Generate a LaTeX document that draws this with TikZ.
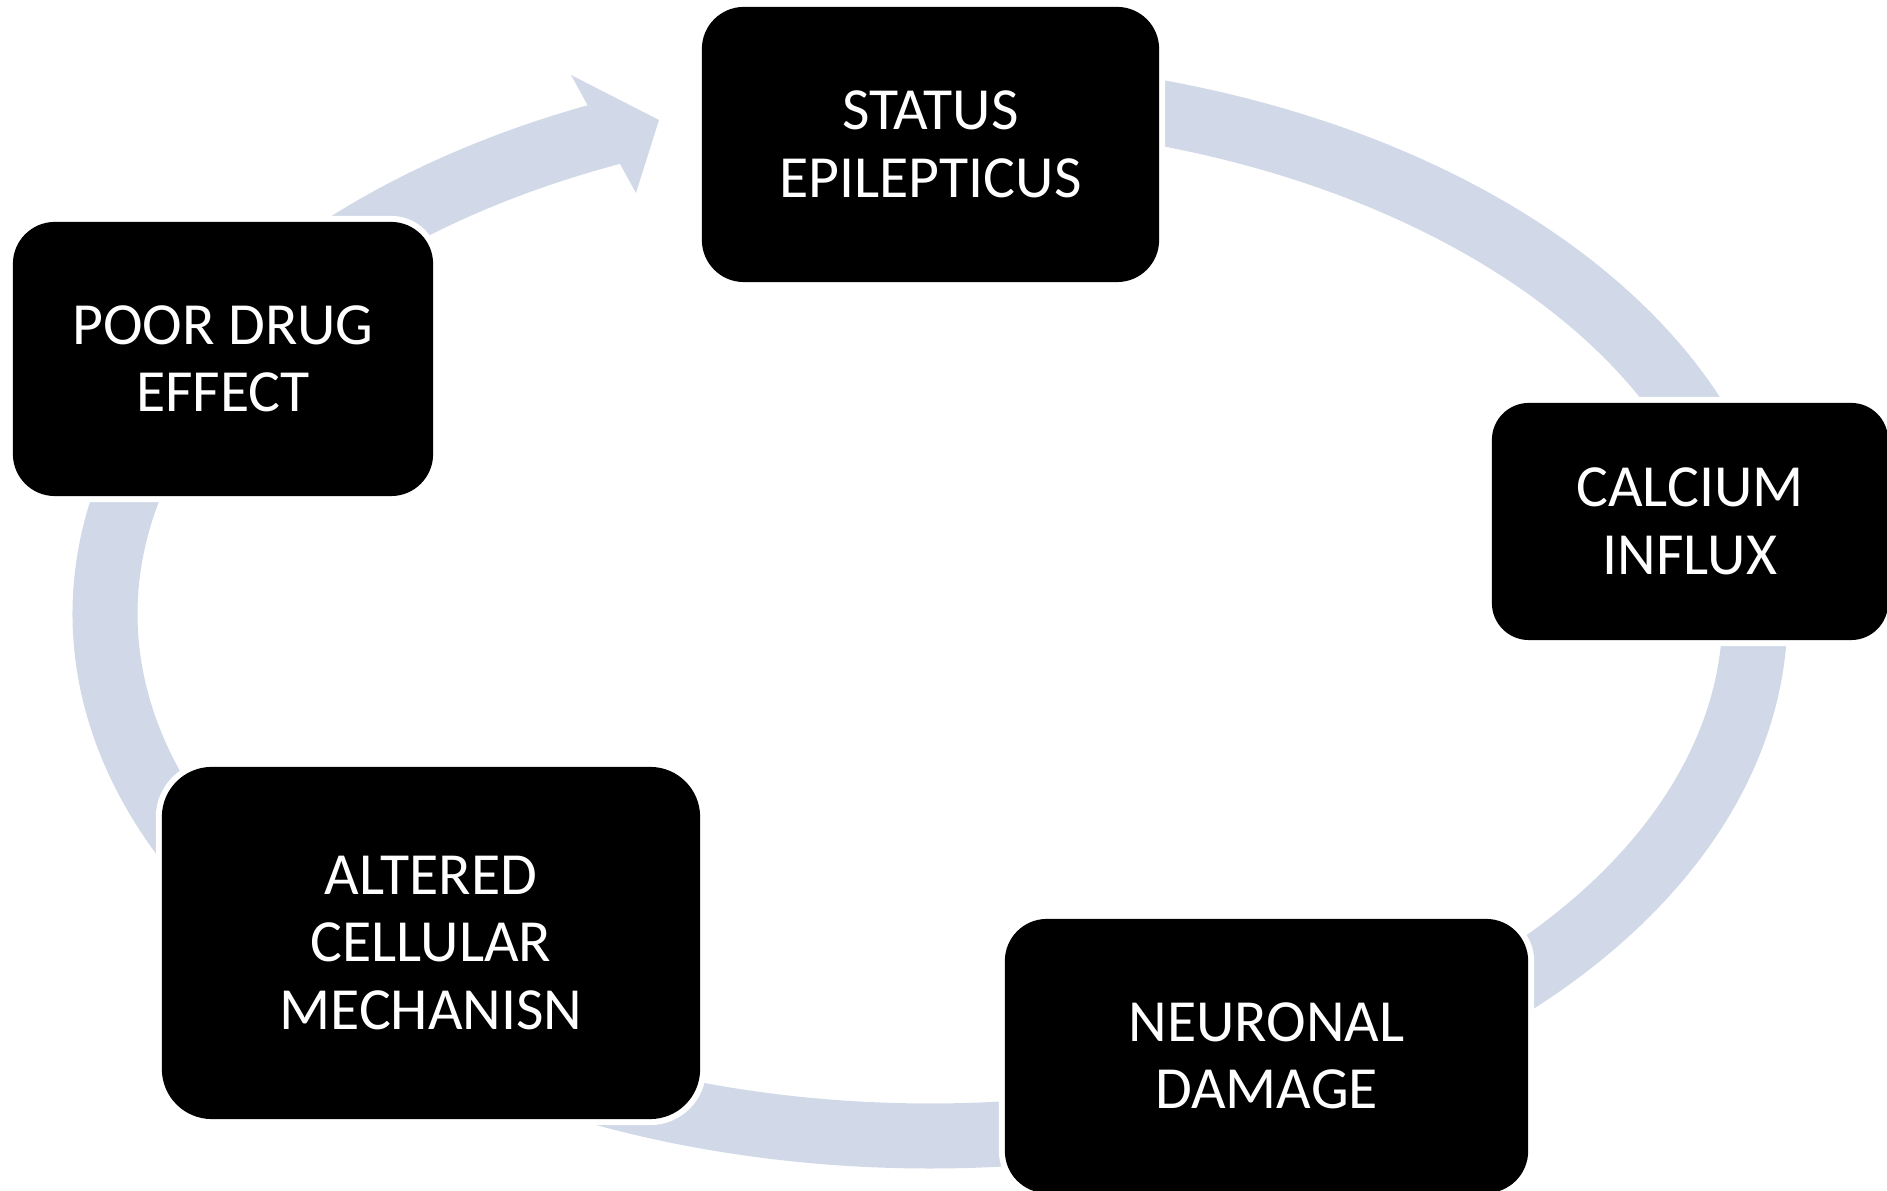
\documentclass[tikz,border=0pt]{standalone}
\usepackage{fontspec}
\setmainfont{Carlito}

\begin{document}
\begin{tikzpicture}
	[x=0.01cm,y=0.01cm,
	%Styles
	stage/.style={fill=black,text=white,rounded corners=0.42cm,inner sep=0pt,
		align=center,font=\fontsize{17}{19.2}\selectfont,
		preaction={draw=white,line width=0.12cm}},
	ring/.style={draw=ringcolor,line width=0.65cm},
	ring tip/.style={fill=ringcolor}
	]
	
	%Colors
	\definecolor{ringcolor}{RGB}{209,217,232}	%cycle band
	
	\useasboundingbox (0,0) rectangle (1887,1191);
	\coordinate (c) at (930,577);
	
	%The cycle
	\foreach \a/\b in {80/8, 3/-55, -70/-120, -150/-200}
		\draw[ring] (c) ++(\a:825 and 522) arc[start angle=\a, end angle=\b, x radius=825, y radius=522];
	\draw[ring] (c) ++(150:825 and 522) arc[start angle=150, end angle=112.5, x radius=825, y radius=522];
	
	%Head of the arrow into status
	\coordinate (tip) at (659,1071);
	\coordinate (barb up) at (571,1116);
	\coordinate (barb down) at (636,998);
	\fill[ring tip] (barb up) -- (tip) -- (barb down) -- cycle;
	
	%The stages
	\node[stage,minimum width=4.57cm,minimum height=2.75cm] (status) at (930.5,1046.5) {STATUS\\EPILEPTICUS};
	\node[stage,minimum width=3.96cm,minimum height=2.37cm,rounded corners=0.37cm] (calcium) at (1690,669.5) {CALCIUM\\INFLUX};
	\node[stage,minimum width=5.23cm,minimum height=2.74cm] (neuronal) at (1266.5,135) {NEURONAL\\DAMAGE};
	\node[stage,minimum width=5.38cm,minimum height=3.52cm,rounded corners=0.5cm] (altered) at (431,248) {ALTERED\\CELLULAR\\MECHANISN};
	\node[stage,minimum width=4.20cm,minimum height=2.74cm] (poor) at (223,832) {POOR DRUG\\EFFECT};
\end{tikzpicture}
\end{document}
